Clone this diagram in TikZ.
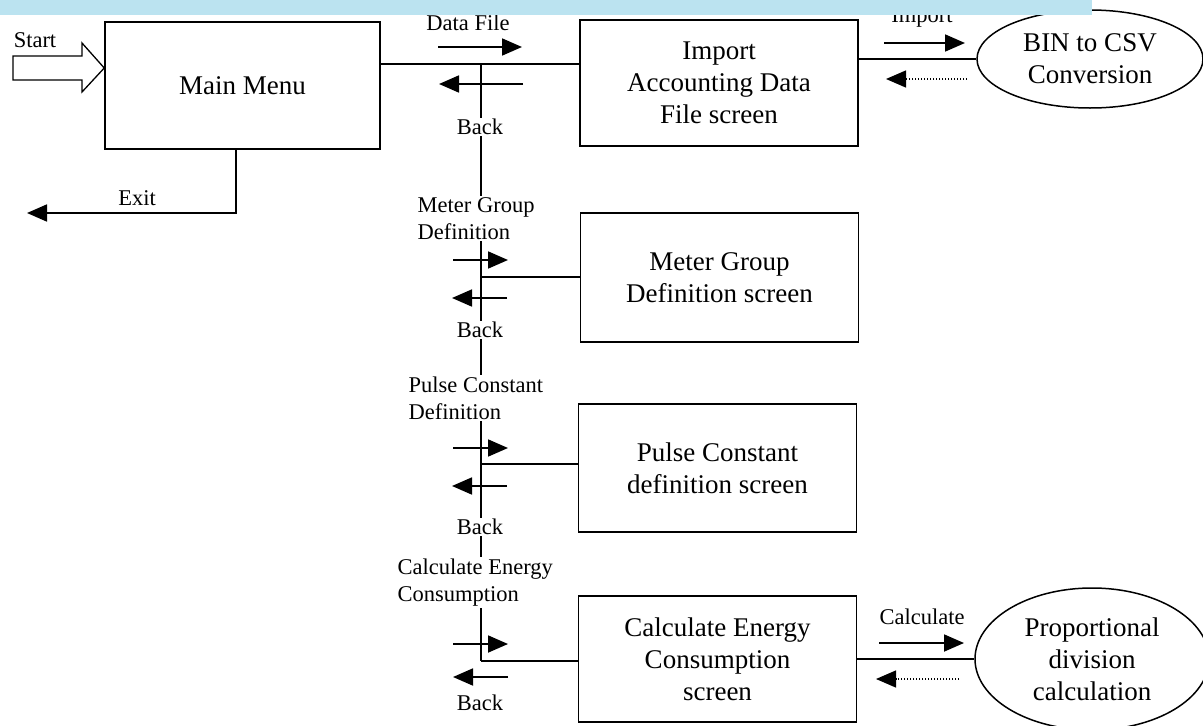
\documentclass[tikz,border=0pt]{standalone}
\usepackage{fontspec}
\setmainfont{Liberation Serif}
\usetikzlibrary{arrows.meta,shapes.geometric}
\definecolor{bandblue}{HTML}{BBE3F0}
\begin{document}
\begin{tikzpicture}[x=1pt,y=-1pt,
  bigtext/.style={font=\fontsize{27}{32}\selectfont, align=center},
  smalltext/.style={font=\fontsize{22.5}{27}\selectfont, fill=white, inner sep=1.5pt},
  box/.style={draw, line width=1.5pt, rectangle, inner sep=0pt, minimum width=278pt, bigtext},
  oval/.style={draw, line width=1.5pt, ellipse, inner sep=0pt, bigtext},
  conn/.style={line width=1.6pt},
  arr/.style={line width=1.8pt, -{Triangle[length=20pt,width=17pt]}},
  darr/.style={line width=1.3pt, dash pattern=on 1.3pt off 1.7pt, -{Triangle[length=20pt,width=17pt]}},
]
\useasboundingbox (0,0) rectangle (1203,726);

% nodes
\node[box, minimum width=275pt, minimum height=127pt] (mm) at (242.5,85.5) {Main Menu};
\node[box, minimum height=126pt] (imp) at (719,83) {Import\\Accounting Data\\File screen};
\node[oval, minimum width=226pt, minimum height=98pt] (bin) at (1090,59) {BIN to CSV\\Conversion};
\node[box, minimum height=129pt] (mg) at (719.5,277.5) {Meter Group\\Definition screen};
\node[box, minimum height=128pt] (pc) at (717.5,468) {Pulse Constant\\definition screen};
\node[box, minimum height=126pt] (ce) at (717.5,659) {Calculate Energy\\Consumption\\screen};
\node[oval, minimum width=234pt, minimum height=142pt] (pd) at (1092,659) {Proportional\\division\\calculation};

% bus coordinates
\coordinate (j0) at (481,64);
\coordinate (j1) at (481,277);
\coordinate (j2) at (481,464);
\coordinate (j3) at (481,661);
\coordinate (exitend) at (27,213);

% connectors
\draw[conn] (mm.east |- j0) -- (imp.west |- j0);
\draw[conn] (j0) -- (j3);
\draw[conn] (j1) -- (mg.west |- j1);
\draw[conn] (j2) -- (pc.west |- j2);
\draw[conn] (j3) -- (ce.west |- j3);
\draw[conn] (imp.east |- bin.west) -- (bin.west);
\draw[conn] (ce.east |- pd.west) -- (pd.west);
\draw[arr] ([xshift=-6.5pt]mm.south) |- (exitend);

% start arrow
\draw[line width=1.3pt, line join=miter] (13,56) -- (82,56) -- (82,43) -- (mm.west |- 0,68) -- (82,92) -- (82,80) -- (13,80) -- cycle;

% small direction arrows
\draw[arr] (438,47) -- (522,47);
\draw[arr] (523,84) -- (439,84);
\draw[arr] (884,43) -- (965,43);
\draw[darr] (967,79) -- (886,79);
\draw[arr] (453,260) -- (508,260);
\draw[arr] (507,298) -- (452,298);
\draw[arr] (453,448) -- (508,448);
\draw[arr] (507,486) -- (452,486);
\draw[arr] (453,644) -- (508,644);
\draw[arr] (508,677) -- (453,677);
\draw[arr] (879,643) -- (964,643);
\draw[darr] (959,679) -- (876,679);

% labels
\node[smalltext] (lstart) at (35,40) {Start};
\node[smalltext] (lexit) at (137,198) {Exit};
\node[smalltext] (ldf) at (468,23) {Data File};
\node[smalltext] (lb0) at (480,127) {Back};
\node[smalltext] (limp) at (922,18) {Import};
\node[smalltext, anchor=west, align=left] (lmg) at (416,218.5) {Meter Group\\Definition};
\node[smalltext] (lb1) at (480,330) {Back};
\node[smalltext, anchor=west, align=left] (lpc) at (407,398) {Pulse Constant\\Definition};
\node[smalltext] (lb2) at (480,527) {Back};
\node[smalltext, anchor=west, align=left] (lce) at (396,582.5) {Calculate Energy\\Consumption};
\node[smalltext] (lb3) at (480,703) {Back};
\node[smalltext] (lcalc) at (922,617) {Calculate};

% top band
\fill[bandblue] (0,0) rectangle (1092,15);
\end{tikzpicture}
\end{document}
